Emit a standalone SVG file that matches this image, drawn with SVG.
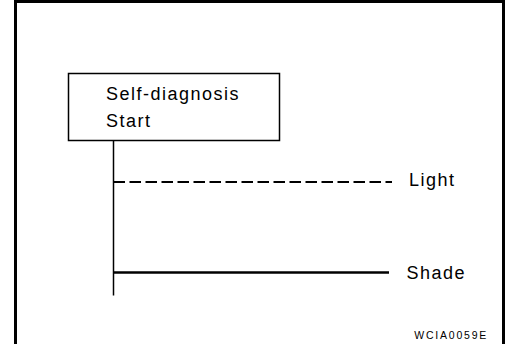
<svg xmlns="http://www.w3.org/2000/svg" width="505" height="344" viewBox="0 0 505 344">
  <style>
    .lbl { font-family: "Liberation Sans", Arial, sans-serif; font-size: 18px; letter-spacing: 1.5px; fill: #000; }
    .code { font-family: "Liberation Sans", Arial, sans-serif; font-size: 10.5px; fill: #000; }
    .ln { stroke: #000; fill: none; }
  </style>
  <rect x="0" y="0" width="505" height="344" fill="#fff"/>
  <rect id="frame" x="15.5" y="1.5" width="488" height="360" fill="none" stroke="#000" stroke-width="3"/>
  <g id="start">
    <rect x="68.5" y="73.5" width="211" height="67" fill="#fff" stroke="#000" stroke-width="1.5"/>
    <text class="lbl" x="106" y="99.5">Self-diagnosis</text>
    <text class="lbl" x="106" y="126.5">Start</text>
  </g>
  <g id="connectors">
    <line class="ln" x1="113.5" y1="141" x2="113.5" y2="295.5" stroke-width="1.5"/>
    <line class="ln" x1="113.5" y1="182" x2="392" y2="182" stroke-width="2.2" stroke-dasharray="11.5 4.5"/>
    <line class="ln" x1="113.5" y1="272.5" x2="389" y2="272.5" stroke-width="2.3"/>
  </g>
  <g id="light">
    <text class="lbl" x="409" y="186">Light</text>
  </g>
  <g id="shade">
    <text class="lbl" x="406.5" y="279">Shade</text>
  </g>
  <text class="code" x="414.3" y="339.3" textLength="72" lengthAdjust="spacing">WCIA0059E</text>
</svg>
